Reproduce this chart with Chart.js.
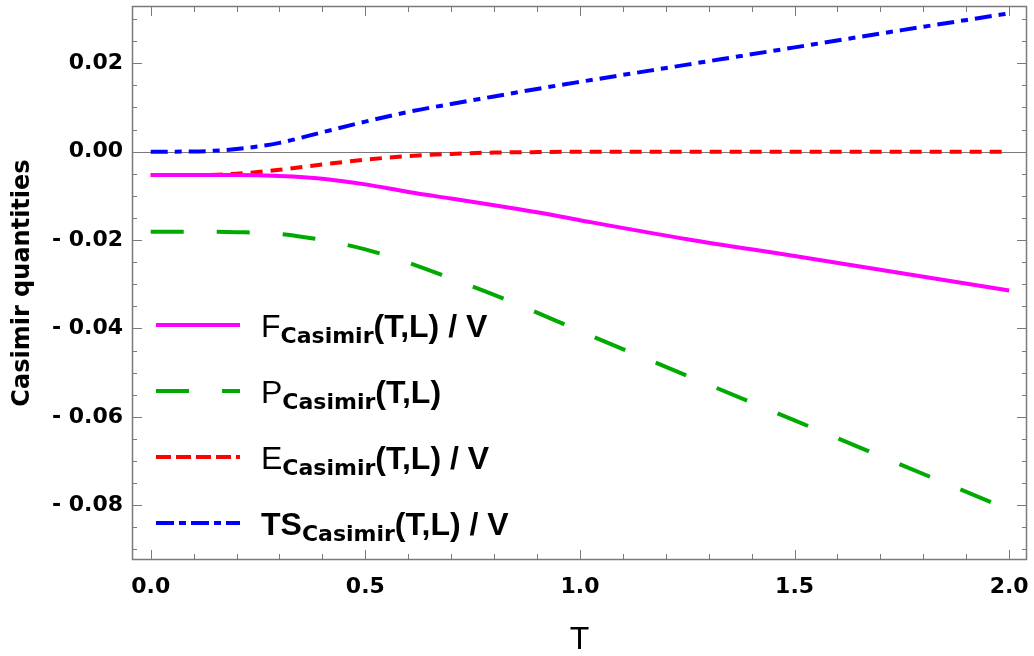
<!DOCTYPE html>
<html>
<head>
<meta charset="utf-8">
<script src="https://cdn.jsdelivr.net/npm/chart.js@4.4.0/dist/chart.umd.min.js"></script>
<style>
  html, body { margin: 0; padding: 0; background: #fff; }
  #wrap { width: 1034px; height: 656px; }
</style>
</head>
<body>
<div id="wrap"><canvas id="casimirChart" width="1034" height="656"></canvas></div>
<script>
// values
const tValues     = [0, 0.1, 0.2, 0.3, 0.4, 0.5, 0.6, 0.7, 0.8, 0.9, 1.0, 1.25, 1.5, 1.75, 2.0];
const freeEnergy  = [-0.0053, -0.0053, -0.0053, -0.0055, -0.0061, -0.0074, -0.0091, -0.0106, -0.0121, -0.0137, -0.0155, -0.0198, -0.0236, -0.0275, -0.0314];
const pressure    = [-0.0181, -0.0181, -0.0182, -0.0186, -0.0200, -0.0221, -0.0251, -0.0287, -0.0324, -0.0364, -0.0406, -0.0507, -0.0608, -0.0709, -0.0810];
const energy      = [-0.0053, -0.0053, -0.0050, -0.0041, -0.0029, -0.0018, -0.0010, -0.0005, -0.0002, -0.0001, 0, 0, 0, 0, 0];
const entropyTerm = [0, 0.00005, 0.0006, 0.0020, 0.0044, 0.0068, 0.0090, 0.0108, 0.0125, 0.0142, 0.0158, 0.0197, 0.0236, 0.0275, 0.0313];

const xTickValues = [0, 0.5, 1.0, 1.5, 2.0];
const yTickValues = [-0.08, -0.06, -0.04, -0.02, 0, 0.02];

const toPoints = (ys) => tValues.map((t, i) => ({ x: t, y: ys[i] }));

// legend rows (lead letter, subscript, tail)
const legendRows = [
  { color: '#ff00ff', dash: [],            lead: 'F',  leadBold: false, tail: '(T,L) / V' },
  { color: '#00aa00', dash: [33, 33],      lead: 'P',  leadBold: false, tail: '(T,L)' },
  { color: '#ff0000', dash: [15, 5],       lead: 'E',  leadBold: false, tail: '(T,L) / V' },
  { color: '#0000ff', dash: [18, 5, 7, 5], lead: 'TS', leadBold: true,  tail: '(T,L) / V' }
];

// frame, inward ticks and zero line like the original plot
const frameTicks = {
  id: 'frameTicks',
  beforeDatasetsDraw(chart) {
    const { ctx, chartArea: a, scales: { x, y } } = chart;
    ctx.save();
    ctx.strokeStyle = '#7a7a7a';
    ctx.lineWidth = 1;
    ctx.beginPath();
    // zero line
    const y0 = Math.round(y.getPixelForValue(0)) + 0.5;
    ctx.moveTo(a.left, y0); ctx.lineTo(a.right, y0);
    // x ticks every 0.1
    for (let i = 0; i <= 20; i++) {
      const px = Math.round(x.getPixelForValue(i / 10)) + 0.5;
      const len = i % 5 === 0 ? 10 : 6;
      ctx.moveTo(px, a.bottom); ctx.lineTo(px, a.bottom - len);
      ctx.moveTo(px, a.top); ctx.lineTo(px, a.top + len);
    }
    // y ticks every 0.005
    for (let k = -18; k <= 6; k++) {
      const py = Math.round(y.getPixelForValue(k * 0.005)) + 0.5;
      const len = k % 4 === 0 ? 10 : 5;
      ctx.moveTo(a.left, py); ctx.lineTo(a.left + len, py);
      ctx.moveTo(a.right, py); ctx.lineTo(a.right - len, py);
    }
    ctx.stroke();
    ctx.lineWidth = 1.5;
    ctx.strokeRect(Math.round(a.left) + 0.5, Math.round(a.top) + 0.5,
                   Math.round(a.width) - 1, Math.round(a.height) - 1);
    ctx.restore();
  }
};

const richLegend = {
  id: 'richLegend',
  afterDraw(chart) {
    const ctx = chart.ctx;
    ctx.save();
    legendRows.forEach((row, i) => {
      const yRow = 325 + i * 66;
      ctx.strokeStyle = row.color;
      ctx.lineWidth = 4;
      ctx.setLineDash(row.dash);
      ctx.beginPath();
      ctx.moveTo(156, yRow); ctx.lineTo(240, yRow);
      ctx.stroke();
      ctx.setLineDash([]);

      ctx.fillStyle = '#000';
      ctx.textBaseline = 'alphabetic';
      let xt = 261;
      const base = yRow + 12;
      ctx.font = (row.leadBold ? 'bold ' : '') + '32px "Liberation Sans"';
      ctx.fillText(row.lead, xt, base);
      xt += ctx.measureText(row.lead).width;
      ctx.font = 'bold 22px "DejaVu Sans"';
      ctx.fillText('Casimir', xt, base + 6);
      xt += ctx.measureText('Casimir').width;
      ctx.font = 'bold 32px "Liberation Sans"';
      ctx.fillText(row.tail, xt, base);
    });
    ctx.restore();
  }
};

// drop the label overhang padding so the plot frame sits where it should
const noOverhang = (s) => {
  s.paddingTop = 0; s.paddingBottom = 0; s.paddingLeft = 0; s.paddingRight = 0;
};

const ctx = document.getElementById('casimirChart');
const casimirChart = new Chart(ctx, {
  type: 'line',
  data: {
    datasets: [
      { label: 'F', data: toPoints(freeEnergy),  borderColor: '#ff00ff', borderDash: [] },
      { label: 'P', data: toPoints(pressure),    borderColor: '#00aa00', borderDash: [33, 33] },
      { label: 'E', data: toPoints(energy),      borderColor: '#ff0000', borderDash: [12, 8] },
      { label: 'TS', data: toPoints(entropyTerm), borderColor: '#0000ff', borderDash: [17, 7, 7, 7] }
    ]
  },
  options: {
    responsive: false,
    animation: false,
    devicePixelRatio: 1,
    layout: { padding: { top: 6, right: 7, left: 0, bottom: 0 } },
    plugins: { legend: { display: false }, tooltip: { enabled: false } },
    elements: {
      point: { radius: 0 },
      line: { borderWidth: 4, cubicInterpolationMode: 'monotone', fill: false }
    },
    scales: {
      x: {
        type: 'linear',
        min: -0.0436,
        max: 2.0415,
        grid: { display: false, drawTicks: false },
        border: { display: false },
        afterFit: (s) => { s.height = 96; noOverhang(s); },
        afterBuildTicks: (s) => { s.ticks = xTickValues.map(v => ({ value: v })); },
        ticks: {
          autoSkip: false, maxRotation: 0, padding: 14, color: '#000',
          font: { family: 'DejaVu Sans', weight: 'bold', size: 22 },
          callback: (v) => Number(v).toFixed(1)
        },
        title: {
          display: true, text: 'T', color: '#000',
          font: { family: 'Liberation Sans', size: 32, lineHeight: 1 },
          padding: { top: 0, bottom: 0 }
        }
      },
      y: {
        type: 'linear',
        min: -0.09238,
        max: 0.03296,
        grid: { display: false, drawTicks: false },
        border: { display: false },
        afterFit: (s) => { s.width = 132; noOverhang(s); },
        afterBuildTicks: (s) => { s.ticks = yTickValues.map(v => ({ value: v })); },
        ticks: {
          autoSkip: false, padding: 9, color: '#000',
          font: { family: 'DejaVu Sans', weight: 'bold', size: 22 },
          callback: (v) => v < -1e-9 ? '- ' + Math.abs(v).toFixed(2) : Math.abs(v).toFixed(2)
        },
        title: {
          display: true, text: 'Casimir quantities', color: '#000',
          font: { family: 'DejaVu Sans', weight: 'bold', size: 24, lineHeight: 1.2 },
          padding: { top: 8, bottom: 0 }
        }
      }
    }
  },
  plugins: [frameTicks, richLegend]
});
</script>
</body>
</html>
